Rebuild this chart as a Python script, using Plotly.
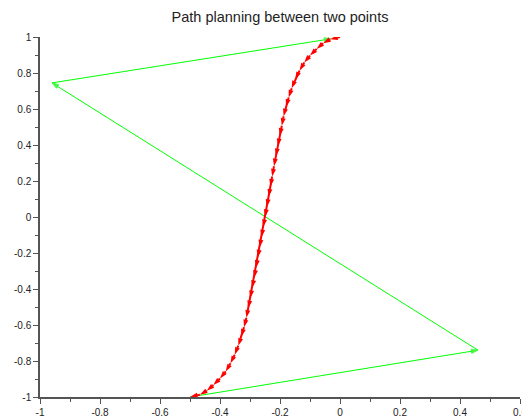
import plotly.graph_objects as go

# Red path, ordered from the top end to the bottom end
red_x = [0.0, -0.033, -0.056, -0.078, -0.100, -0.119, -0.135, -0.149, -0.161, -0.171,
         -0.180, -0.188, -0.194, -0.201, -0.207, -0.214, -0.220, -0.226, -0.232, -0.238,
         -0.244, -0.250, -0.256, -0.262, -0.268, -0.274, -0.280, -0.286, -0.293, -0.299,
         -0.306, -0.312, -0.320, -0.329, -0.339, -0.351, -0.365, -0.381, -0.400, -0.422,
         -0.444, -0.467, -0.5]
red_y = [1.0, 0.987, 0.965, 0.934, 0.897, 0.858, 0.813, 0.765, 0.715, 0.664,
         0.612, 0.560, 0.507, 0.451, 0.394, 0.338, 0.282, 0.225, 0.169, 0.113,
         0.056, 0.0, -0.056, -0.113, -0.169, -0.225, -0.282, -0.338, -0.394, -0.451,
         -0.507, -0.560, -0.612, -0.664, -0.715, -0.765, -0.813, -0.858, -0.897, -0.934,
         -0.965, -0.987, -1.0]

# Green control polygon
green_x = [-0.5, 0.46, -0.96, -0.03]
green_y = [-1.0, -0.74, 0.745, 0.99]

x_ticks = [-1, -0.8, -0.6, -0.4, -0.2, 0, 0.2, 0.4, 0.6]
x_labels = ["-1", "-0.8", "-0.6", "-0.4", "-0.2", "0", "0.2", "0.4", "0.6"]
y_ticks = [-1, -0.8, -0.6, -0.4, -0.2, 0, 0.2, 0.4, 0.6, 0.8, 1]
y_labels = ["-1", "-0.8", "-0.6", "-0.4", "-0.2", "0", "0.2", "0.4", "0.6", "0.8", "1"]

fig = go.Figure()
fig.add_trace(go.Scatter(
    x=green_x, y=green_y, mode="lines+markers",
    line=dict(color="#00ff00", width=1),
    marker=dict(symbol="arrow", angleref="previous", size=[0, 7, 7, 7], color="#00ee00"),
    hoverinfo="skip", showlegend=False))
fig.add_trace(go.Scatter(
    x=red_x, y=red_y, mode="lines+markers",
    line=dict(color="#ff0000", width=2),
    marker=dict(symbol="arrow", angleref="previous", size=8, color="#ff0000"),
    hoverinfo="skip", showlegend=False))

axis_common = dict(
    showgrid=False, zeroline=False, showline=True, linecolor="#555555", linewidth=1.5,
    ticks="outside", ticklen=5, tickwidth=1, tickcolor="#555555",
    tickfont=dict(family="Liberation Sans, Arial, sans-serif", size=10, color="#222222"),
    minor=dict(ticks="outside", ticklen=3, tickwidth=1, tickcolor="#555555", dtick=0.1),
    mirror=False, ticklabeloverflow="allow", automargin=False,
)
fig.update_xaxes(range=[-1, 0.6], tickvals=x_ticks, ticktext=x_labels, **axis_common)
fig.update_yaxes(range=[-1, 1], tickvals=y_ticks, ticktext=y_labels, **axis_common)

fig.update_layout(
    width=522, height=419,
    margin=dict(l=40, r=2, t=37, b=22),
    paper_bgcolor="white", plot_bgcolor="white",
    title=dict(text="Path planning between two points", x=0.5, xref="paper",
               y=0.96, yref="container", xanchor="center", yanchor="middle",
               font=dict(family="Liberation Sans, Arial, sans-serif", size=14.5, color="#222222")),
)

fig.write_html("out.html")
